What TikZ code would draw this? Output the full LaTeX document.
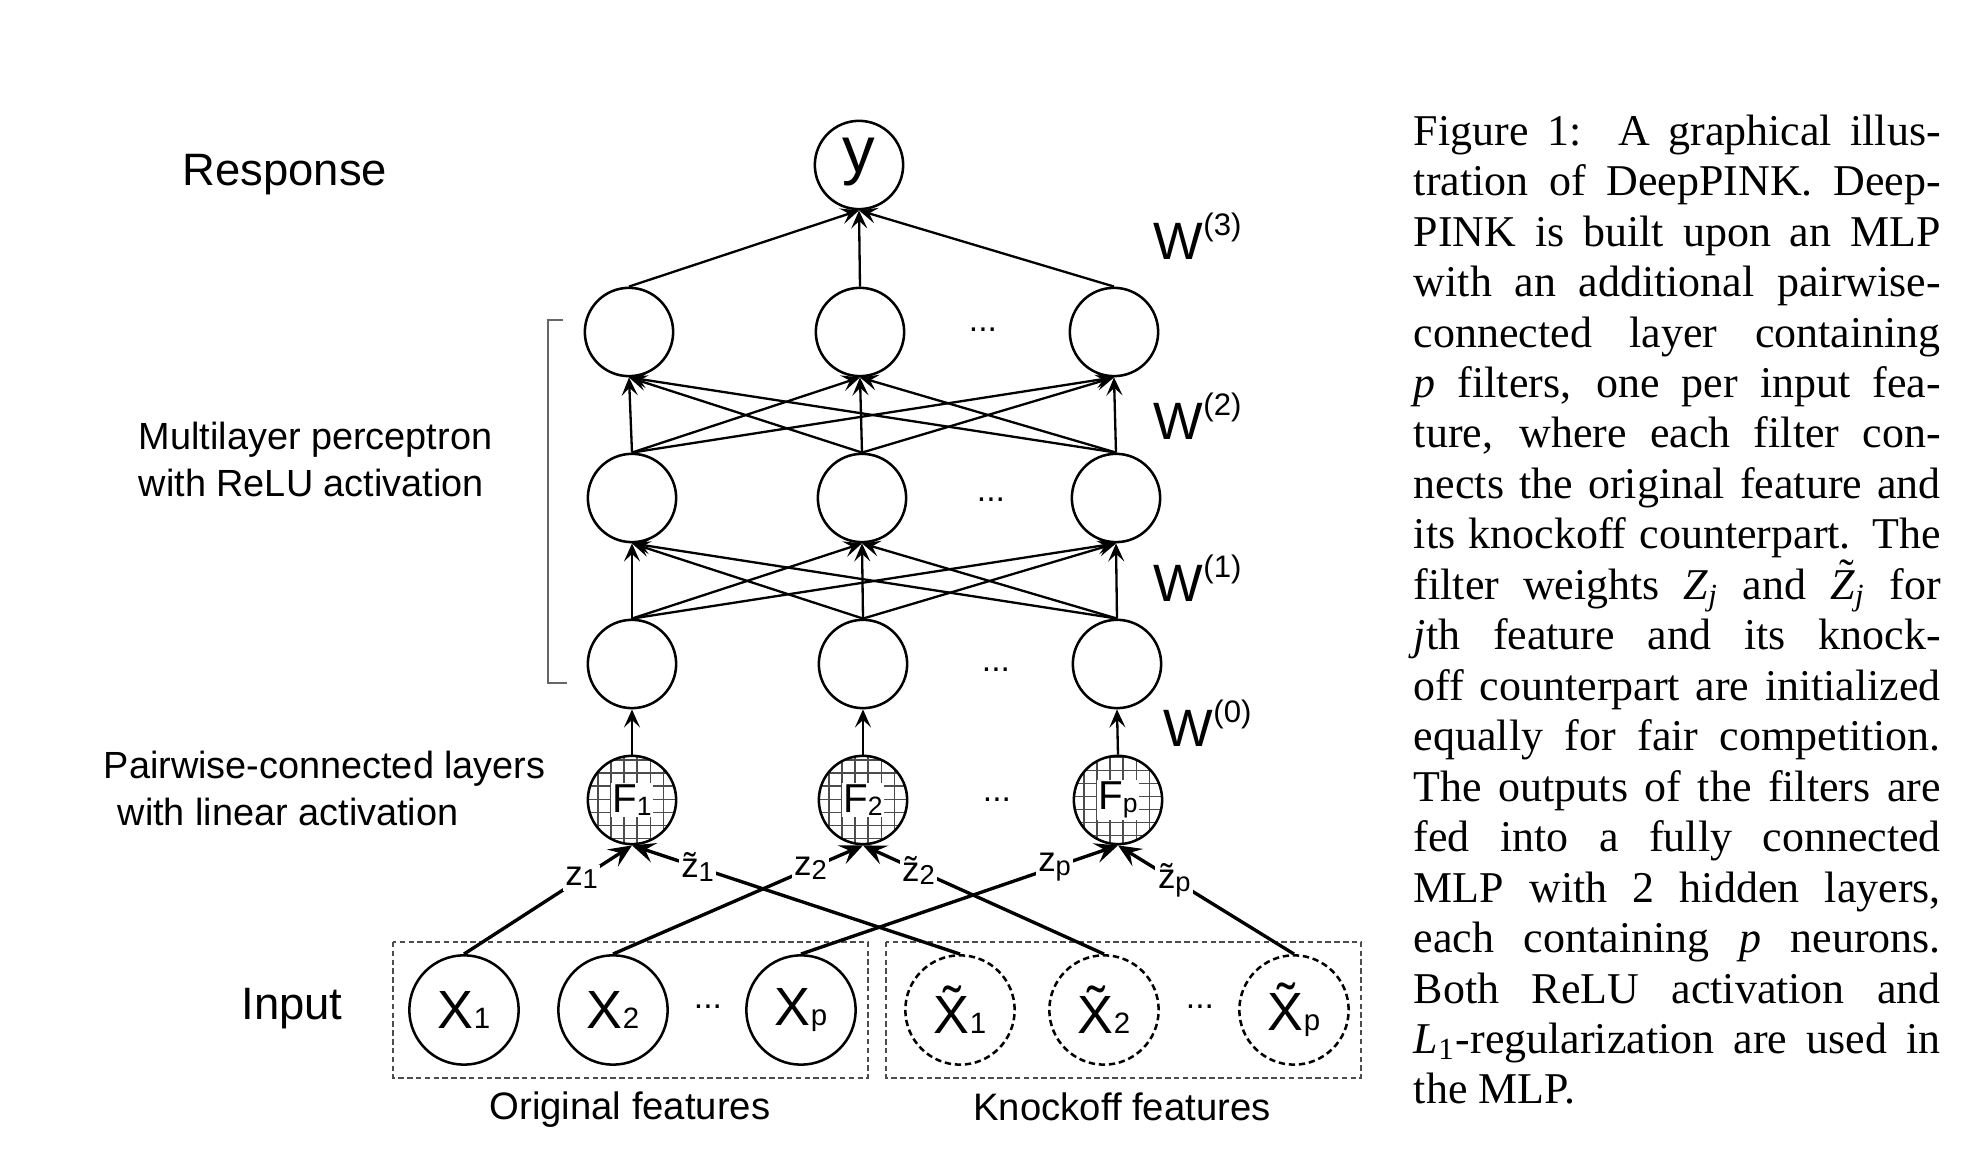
\documentclass[tikz,border=0pt]{standalone}
\usepackage{fontspec}
\setmainfont{Liberation Serif}
\setsansfont{Liberation Sans}
\usetikzlibrary{arrows.meta}

\newcommand{\lsub}[1]{{\fontsize{7}{7}\selectfont #1}}
\newcommand{\zsub}[1]{\raisebox{-0.8pt}{\fontsize{6.5}{7}\selectfont #1}}
\newcommand{\fsub}[1]{\raisebox{-0.8pt}{\fontsize{6.3}{7}\selectfont #1}}
\newcommand{\wsup}[1]{\raisebox{5.9pt}{\fontsize{7.4}{8}\selectfont (#1)}}
\newcommand{\capline}[1]{\makebox[\linewidth][s]{\strut #1}\\}
\newcommand{\tZ}{\rlap{\hspace{2.1pt}\smash{\raisebox{2.3pt}{\char"02DC}}}\textit{Z}}

\begin{document}
\begin{tikzpicture}[x=0.2378pt, y=-0.2378pt,
  neuron/.style={draw, circle, line width=0.6pt, minimum size=21pt, inner sep=0pt},
  filter/.style={neuron, font=\sffamily\fontsize{9.6}{10}\selectfont,
    path picture={\draw[black!70, line width=0.3pt, step=3.1pt]
      (path picture bounding box.south west) grid (path picture bounding box.north east);}},
  feat/.style={draw, circle, line width=0.6pt, minimum size=26pt, inner sep=0pt,
    font=\sffamily\fontsize{12.8}{13}\selectfont},
  knock/.style={feat, dash pattern=on 1.5pt off 0.9pt},
  wire/.style={line width=0.55pt, -{Stealth[length=4.3pt, width=3.8pt, inset=1.8pt]}},
  pair/.style={line width=0.8pt, -{Stealth[length=5.5pt, width=4.8pt, inset=2.2pt]}},
  zlab/.style={fill=white, inner sep=0.6pt, font=\sffamily\fontsize{8.3}{9}\selectfont},
  dots/.style={inner sep=0pt, font=\sffamily\fontsize{8}{8}\selectfont},
  wlab/.style={anchor=base west, inner sep=0pt, font=\sffamily\fontsize{12.5}{13}\selectfont},
  side/.style={inner sep=0pt, align=left, font=\sffamily\fontsize{9}{11.2}\selectfont},
  big/.style={inner sep=0pt, anchor=base, font=\sffamily\fontsize{10.8}{12}\selectfont},
  featbox/.style={draw=black!70, line width=0.7pt, dash pattern=on 1.3pt off 0.8pt}
]
\useasboundingbox (0,0) rectangle (1972,1162);

% Response
\node[neuron, font=\sffamily\fontsize{15.5}{16}\selectfont, text height=3.6pt, text depth=0pt] (y) at (859,165) {y};

% MLP layers
\node[neuron] (h3a) at (629,332) {};
\node[neuron] (h3b) at (860,332) {};
\node[neuron] (h3c) at (1114,332) {};
\node[dots] (d3) at (983,330) {...};

\node[neuron] (h2a) at (632,498) {};
\node[neuron] (h2b) at (862,498) {};
\node[neuron] (h2c) at (1116,498) {};
\node[dots] (d2) at (991,500) {...};

\node[neuron] (h1a) at (632,664) {};
\node[neuron] (h1b) at (863,664) {};
\node[neuron] (h1c) at (1117,664) {};
\node[dots] (d1) at (996,670) {...};

% Pairwise-connected filters
\node[filter] (f1) at (632,800) {{\fboxsep=0.3pt\colorbox{white}{F\fsub{1}}}};
\node[filter] (f2) at (863,800) {{\fboxsep=0.3pt\colorbox{white}{F\fsub{2}}}};
\node[filter] (fp) at (1118,800) {{\fboxsep=0.3pt\colorbox{white}{F\fsub{p}}}};
\node[dots] (df) at (997,800) {...};

% Input features
\node[feat] (x1) at (464,1010) {X\lsub{1}};
\node[feat] (x2) at (613,1010) {X\lsub{2}};
\node[feat] (xp) at (801,1010) {X\lsub{p}};
\node[dots] (dx) at (708,1007) {...};
\node[knock] (xt1) at (960,1010) {\~{X}\lsub{1}};
\node[knock] (xt2) at (1104,1010) {\~{X}\lsub{2}};
\node[knock] (xtp) at (1294,1010) {\~{X}\lsub{p}};
\node[dots] (dxt) at (1200,1007) {...};

% Dashed groups
\draw[featbox] (393,942) rectangle (868,1078);
\draw[featbox] (886,942) rectangle (1361,1078);
\node[big, font=\sffamily\fontsize{9.1}{11}\selectfont] (orig) at (630,1120) {Original features};
\node[big, font=\sffamily\fontsize{9.1}{11}\selectfont] (knk) at (1122,1121) {Knockoff features};

% Inputs to filters
\draw[pair] (x1.north) -- node[zlab, pos=0.7] {z\zsub{1}} (f1.south);
\draw[pair] (xt1.north) -- node[zlab, pos=0.8] {\~{z}\zsub{1}} (f1.south);
\draw[pair] (x2.north) -- node[zlab, pos=0.79] {z\zsub{2}} (f2.south);
\draw[pair] (xt2.north) -- node[zlab, pos=0.77] {\~{z}\zsub{2}} (f2.south);
\draw[pair] (xp.north) -- node[zlab, pos=0.8] {z\zsub{p}} (fp.south);
\draw[pair] (xtp.north) -- node[zlab, pos=0.68] {\~{z}\zsub{p}} (fp.south);

% W(0)
\draw[wire] (f1.north) -- (h1a.south);
\draw[wire] (f2.north) -- (h1b.south);
\draw[wire] (fp.north) -- (h1c.south);

% W(1)
\draw[wire] (h1a.north) -- (h2a.south);
\draw[wire] (h1a.north) -- (h2b.south);
\draw[wire] (h1a.north) -- (h2c.south);
\draw[wire] (h1b.north) -- (h2a.south);
\draw[wire] (h1b.north) -- (h2b.south);
\draw[wire] (h1b.north) -- (h2c.south);
\draw[wire] (h1c.north) -- (h2a.south);
\draw[wire] (h1c.north) -- (h2b.south);
\draw[wire] (h1c.north) -- (h2c.south);

% W(2)
\draw[wire] (h2a.north) -- (h3a.south);
\draw[wire] (h2a.north) -- (h3b.south);
\draw[wire] (h2a.north) -- (h3c.south);
\draw[wire] (h2b.north) -- (h3a.south);
\draw[wire] (h2b.north) -- (h3b.south);
\draw[wire] (h2b.north) -- (h3c.south);
\draw[wire] (h2c.north) -- (h3a.south);
\draw[wire] (h2c.north) -- (h3b.south);
\draw[wire] (h2c.north) -- (h3c.south);

% W(3)
\draw[wire] (h3a.north) -- (y.south);
\draw[wire] (h3b.north) -- (y.south);
\draw[wire] (h3c.north) -- (y.south);

% Weight labels
\node[wlab] (w3) at (1153,260) {W\wsup{3}};
\node[wlab] (w2) at (1153,440) {W\wsup{2}};
\node[wlab] (w1) at (1153,602) {W\wsup{1}};
\node[wlab] (w0) at (1163,747) {W\wsup{0}};

% Side labels
\node[big] (resp) at (285,186) {Response};
\node[side, anchor=north west] (mlp) at (138,421) {Multilayer perceptron\\with ReLU activation};
\draw[black!60, line width=0.7pt] (563,320) -- (548,320) -- (548,683) -- (567,683);
\node[side, anchor=north west] (pw) at (103,750) {Pairwise-connected layers\\\hspace*{3.3pt}with linear activation};
\node[big] (inp) at (292,1020) {Input};

% Caption
\node[anchor=north west, inner sep=0pt, text width=125.3pt,
  font=\fontsize{10.45}{12}\selectfont] (cap) at (1413,109) {%
\spaceskip=0pt \xspaceskip=0pt
\capline{Figure 1:\ \ A graphical illus-}
\capline{tration of DeepPINK. Deep-}
\capline{PINK is built upon an MLP}
\capline{with an additional pairwise-}
\capline{connected layer containing}
\capline{\textit{p} filters, one per input fea-}
\capline{ture, where each filter con-}
\capline{nects the original feature and}
\capline{its knockoff counterpart. The}
\capline{filter weights \textit{Z}\textsubscript{\textit{j}} and \tZ\textsubscript{\textit{j}} for}
\capline{\textit{j}th feature and its knock-}
\capline{off counterpart are initialized}
\capline{equally for fair competition.}
\capline{The outputs of the filters are}
\capline{fed into a fully connected}
\capline{MLP with 2 hidden layers,}
\capline{each containing \textit{p} neurons.}
\capline{Both ReLU activation and}
\capline{\textit{L}\textsubscript{1}-regularization are used in}
\strut the MLP.};

\end{tikzpicture}
\end{document}
